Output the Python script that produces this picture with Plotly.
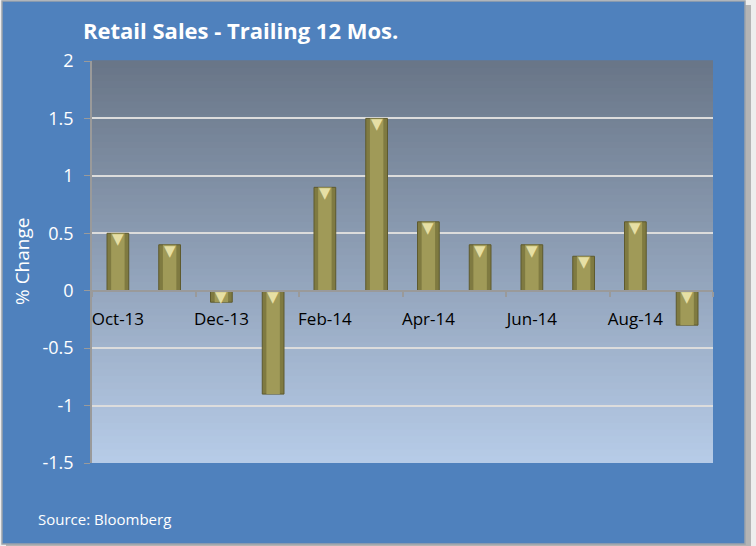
import plotly.graph_objects as go

months = ["Oct-13", "Nov-13", "Dec-13", "Jan-14", "Feb-14", "Mar-14",
          "Apr-14", "May-14", "Jun-14", "Jul-14", "Aug-14", "Sep-14"]
pct_change = [0.5, 0.4, -0.1, -0.9, 0.9, 1.5, 0.6, 0.4, 0.4, 0.3, 0.6, -0.3]
y_ticks = [-1.5, -1, -0.5, 0, 0.5, 1, 1.5, 2]
y_tick_labels = ["-1.5", "-1", "-0.5", "0", "0.5", "1", "1.5", "2"]

W, H = 756, 546
L, R, T, B = 92, 43, 61, 83
PW, PH = W - L - R, H - T - B

def px(x):
    return (x - L) / PW

def py(y):
    return (H - B - y) / PH

FONT = "Open Sans, Calibri, sans-serif"

fig = go.Figure()

# main bar (dark edges)
fig.add_trace(go.Bar(
    x=months, y=pct_change, width=0.42,
    marker=dict(color="#7F7A41", line=dict(color="#5E5A2E", width=1)),
    hoverinfo="skip", showlegend=False,
))
# lighter center for a bevel look
fig.add_trace(go.Bar(
    x=months, y=pct_change, width=0.26,
    marker=dict(color="#A09A58", line=dict(width=0)),
    hoverinfo="skip", showlegend=False,
))

# bevel highlights at the top face of each bar
for m, v in zip(months, pct_change):
    fig.add_annotation(
        x=m, y=max(v, 0), xref="x", yref="y", text="▼", showarrow=False,
        yanchor="top", yshift=5, font=dict(size=15, color="#E6DFA4", family="DejaVu Sans"),
    )

shapes = []
# outer frame
shapes.append(dict(type="rect", xref="paper", yref="paper", layer="below",
                   x0=px(6), x1=px(751), y0=py(546), y1=py(5),
                   fillcolor="#B4B4B4", line=dict(width=0)))
shapes.append(dict(type="rect", xref="paper", yref="paper", layer="below",
                   x0=px(2), x1=px(745), y0=py(544), y1=py(1),
                   fillcolor="#4F81BD", line=dict(color="#9CA3AB", width=1.5)))
# gradient plot background
n = 60
top = (0x69, 0x76, 0x88)
bot = (0xB6, 0xCB, 0xE7)
for i in range(n):
    f = i / (n - 1)
    c = tuple(round(bot[k] + (top[k] - bot[k]) * f) for k in range(3))
    shapes.append(dict(type="rect", xref="paper", yref="paper", layer="below",
                       x0=0, x1=1, y0=i / n, y1=(i + 1) / n + 0.002,
                       fillcolor="rgb(%d,%d,%d)" % c, line=dict(width=0)))
fig.update_layout(shapes=shapes)

zero_pos = (0 - y_ticks[0]) / (y_ticks[-1] - y_ticks[0])

fig.update_layout(
    width=W, height=H,
    margin=dict(l=L, r=R, t=T, b=B, pad=0, autoexpand=False),
    paper_bgcolor="#EEEEEE",
    plot_bgcolor="rgba(0,0,0,0)",
    barmode="overlay",
    font=dict(family=FONT),
    title=dict(text="<b>Retail Sales - Trailing 12 Mos.</b>", x=83 / W, xanchor="left",
               y=1 - 31 / H, yanchor="middle", xref="container", yref="container",
               font=dict(size=22, color="white", family=FONT)),
    xaxis=dict(
        type="category", categoryorder="array", categoryarray=months,
        range=[-0.5, 11.5],
        anchor="free", position=zero_pos,
        showline=True, linecolor="#9A9A9A", linewidth=2,
        ticks="outside", ticklen=5, tickcolor="#9A9A9A", tickwidth=1.5,
        tickson="boundaries", tick0=0, dtick=2,
        tickangle=0, automargin=False, ticklabelstandoff=13,
        showgrid=False,
        tickfont=dict(size=17, color="black", family=FONT),
        fixedrange=True,
    ),
    yaxis=dict(
        range=[y_ticks[0], y_ticks[-1]],
        tickmode="array", tickvals=y_ticks, ticktext=y_tick_labels,
        showline=True, linecolor="#9A9A9A", linewidth=1.5,
        ticks="outside", ticklen=6, tickcolor="#9A9A9A",
        showgrid=True, gridcolor="#DCDCDC", gridwidth=2,
        zeroline=False, automargin=False, ticklabelstandoff=7,
        tickfont=dict(size=18, color="white", family=FONT),
    ),
)

fig.add_annotation(
    text="% Change", xref="paper", yref="paper", textangle=-90,
    x=px(22), y=py(262), xanchor="center", yanchor="middle", showarrow=False,
    font=dict(size=19, color="white", family=FONT),
)
fig.add_annotation(
    text="Source: Bloomberg", xref="paper", yref="paper",
    x=px(36), y=py(519), xanchor="left", yanchor="middle", showarrow=False,
    font=dict(size=15, color="white", family=FONT),
)

fig.write_html("out.html", config={"displayModeBar": False},
               post_script="document.body.style.margin='0';document.body.style.overflow='hidden';")
